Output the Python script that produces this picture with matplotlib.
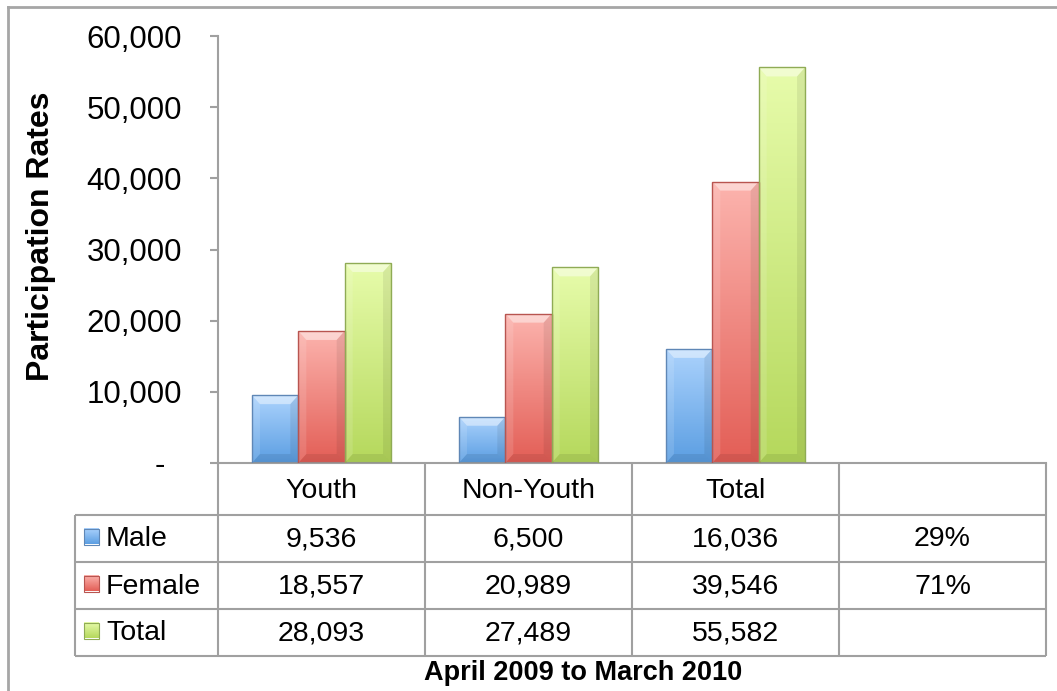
import numpy as np
import matplotlib.pyplot as plt
from matplotlib.colors import LinearSegmentedColormap
from matplotlib.patches import Polygon, Rectangle

plt.rcParams['font.family'] = ['Liberation Sans', 'DejaVu Sans']

# data
categories = ["Youth", "Non-Youth", "Total", ""]
series = ["Male", "Female", "Total"]
male = [9536, 6500, 16036]
female = [18557, 20989, 39546]
total = [28093, 27489, 55582]
y_ticks = [0, 10000, 20000, 30000, 40000, 50000, 60000]
x_title = "April 2009 to March 2010"
y_title = "Participation Rates"

# (top of gradient, bottom of gradient, edge) per series
shades = [("#acd3fd", "#5b9ee2", "#5f87b6"),
          ("#fcb4ae", "#e35e56", "#b85550"),
          ("#e7fcab", "#b5d85c", "#8fab55")]
grid_grey = "#a0a0a0"

W, H = 1057, 691
fig = plt.figure(figsize=(W / 100, H / 100), dpi=100)

# pixel layout of plot area and table
L, R, T, B = 218, 1046, 36, 463
ax = fig.add_axes([L / W, 1 - B / H, (R - L) / W, (B - T) / H])
over = fig.add_axes([0, 0, 1, 1], zorder=5)
over.patch.set_alpha(0)
over.axis('off')

#===============#
# Gradient bars #
#===============#
data = [male, female, total]
bw = 0.224
x = np.arange(len(male))
grad = np.linspace(0, 1, 200).reshape(-1, 1)
dx = 8 / (R - L) * 4          # bevel inset, data units
dy = 9 / (B - T) * 60000

for i, vals in enumerate(data):
    top, bot, edge = shades[i]
    cmap = LinearSegmentedColormap.from_list(series[i], [bot, top])
    bars = ax.bar(x + (i - 1) * bw, vals, bw, color='none', edgecolor=edge, lw=1, zorder=4)
    for b in bars:
        x0, w, h = b.get_x(), b.get_width(), b.get_height()
        im = ax.imshow(grad, cmap=cmap, extent=[x0, x0 + w, 0, h], origin='lower',
                       aspect='auto', zorder=2)
        im.set_clip_path(b)
        # bevel faces
        ax.add_patch(Polygon([(x0, h), (x0 + w, h), (x0 + w - dx, h - dy), (x0 + dx, h - dy)],
                             closed=True, fc='white', alpha=0.45, lw=0, zorder=3))
        ax.add_patch(Polygon([(x0, 0), (x0 + w, 0), (x0 + w - dx, dy), (x0 + dx, dy)],
                             closed=True, fc='black', alpha=0.08, lw=0, zorder=3))
        ax.add_patch(Polygon([(x0 + w, 0), (x0 + w, h), (x0 + w - dx, h - dy), (x0 + w - dx, dy)],
                             closed=True, fc='black', alpha=0.07, lw=0, zorder=3))
        ax.add_patch(Polygon([(x0, 0), (x0, h), (x0 + dx, h - dy), (x0 + dx, dy)],
                             closed=True, fc='white', alpha=0.12, lw=0, zorder=3))

ax.set_xlim(-0.5, len(categories) - 0.5)
ax.set_ylim(0, 60000)
ax.set_xticks([])
ax.set_yticks(y_ticks)
ax.set_yticklabels(["-  " if v == 0 else f"{v:,}" for v in y_ticks])
ax.tick_params(axis='y', length=5.8, width=1.5, color=grid_grey, labelsize=22.5, pad=20)
for s in ['top', 'right']:
    ax.spines[s].set_visible(False)
for s in ['left', 'bottom']:
    ax.spines[s].set_color(grid_grey)
    ax.spines[s].set_linewidth(1.5)
ax.set_ylabel(y_title, fontsize=23, fontweight='bold', ha='center', va='center')
ax.yaxis.set_label_coords((41 - L) / (R - L), (B - 236) / (B - T))

#============#
# Data table #
#============#
col_edges = [L + k * (R - L) / 4 for k in range(5)]
col_mid = [(a + b) / 2 for a, b in zip(col_edges[:-1], col_edges[1:])]
row_edges = [463, 515, 562, 609, 656]
row_mid = [(a + b) / 2 for a, b in zip(row_edges[:-1], row_edges[1:])]
tbl_left = 75
fs = 20.5

line_kw = dict(color=grid_grey, lw=1.5, solid_capstyle='butt')
for cx in col_edges:
    over.plot([cx, cx], [row_edges[0], row_edges[-1]], **line_kw)
for ry in row_edges[1:]:
    over.plot([tbl_left, R], [ry, ry], **line_kw)
over.plot([tbl_left, tbl_left], [row_edges[1], row_edges[-1]], **line_kw)

for cx, c in zip(col_mid, categories):
    over.text(cx, row_mid[0] + 2, c, ha='center', va='center', fontsize=fs)

share = [f"{round(100 * male[-1] / total[-1])}%", f"{round(100 * female[-1] / total[-1])}%", ""]
for r, (name, vals) in enumerate(zip(series, data)):
    ym = row_mid[r + 1]
    top, bot, edge = shades[r]
    cmap = LinearSegmentedColormap.from_list(name + "_key", [bot, top])
    over.imshow(grad, cmap=cmap, extent=[84, 99, ym + 6, ym - 10], origin='lower', aspect='auto')
    over.add_patch(Rectangle((84, ym - 10), 15, 16, fc='none', ec=edge, lw=0.8))
    over.text(106, ym + 1, name, ha='left', va='center', fontsize=fs)
    for cx, v in zip(col_mid, vals):
        over.text(cx, ym + 1, f"{v:,}", ha='center', va='center', fontsize=fs)
    over.text(col_mid[3], ym + 1, share[r], ha='center', va='center', fontsize=fs)

over.text(583, 673, x_title, ha='center', va='center', fontsize=19.5, fontweight='bold')

# outer chart border (cropped on right and bottom)
over.plot([8, 8], [H, 7], color="#a6a6a6", lw=2)
over.plot([8, W], [7, 7], color="#a6a6a6", lw=2)

over.set_xlim(0, W)
over.set_ylim(H, 0)

fig.savefig("out.png", dpi=100)
